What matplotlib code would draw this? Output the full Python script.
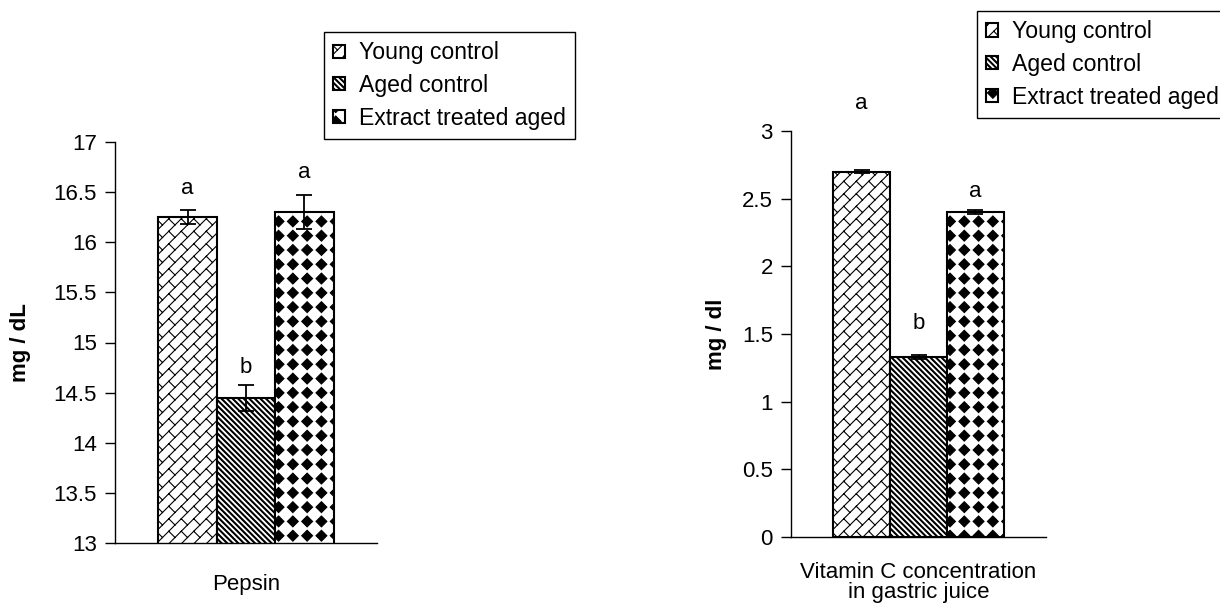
import numpy as np
import matplotlib
matplotlib.use("Agg")
import matplotlib.pyplot as plt
from matplotlib import hatch as mhatch
from matplotlib.path import Path
from matplotlib.ticker import FuncFormatter

# -------------------------------------
# Data
# -------------------------------------
groups = ["Young control", "Aged control", "Extract treated aged"]

pepsin_mean = [16.25, 14.45, 16.30]
pepsin_err = [0.07, 0.13, 0.17]
pepsin_letters = ["a", "b", "a"]
pepsin_letter_y = [16.54, 14.75, 16.70]

vitc_mean = [2.70, 1.33, 2.40]
vitc_err = [0.012, 0.012, 0.015]
vitc_letters = ["a", "b", "a"]
vitc_letter_y = [3.20, 1.58, 2.55]


# -------------------------------------
# Excel-like fill patterns as custom hatches
# 'O' -> diagonal brick, '\' -> thick dark stripes, '*' -> solid diamonds
# -------------------------------------
def st_to_xy(s, t):
    return ((s - t) / 2.0, (s + t) / 2.0)


class BrickHatch(mhatch.HatchPatternBase):
    def __init__(self, hatch, density):
        segs = []
        if "O" in hatch:
            n, m = 8, 4
            for k in range(-n, n + 1):
                t0 = k / n
                segs.append((st_to_xy(t0 - 0.2, t0), st_to_xy(t0 + 2.2, t0)))
                off = 0.5 / m if k % 2 else 0.0
                for j in range(-2, 2 * m + 3):
                    s = j / m + off
                    segs.append((st_to_xy(s, t0), st_to_xy(s, t0 + 1.0 / n)))
        keep = []
        for a, b in segs:
            xs, ys = (a[0], b[0]), (a[1], b[1])
            if max(xs) >= -0.05 and min(xs) <= 1.05 and max(ys) >= -0.05 and min(ys) <= 1.05:
                keep.append((a, b))
        self.segs = keep
        self.num_vertices = 2 * len(keep)

    def set_vertices_and_codes(self, vertices, codes):
        for i, (a, b) in enumerate(self.segs):
            vertices[2 * i] = a
            vertices[2 * i + 1] = b
            codes[2 * i] = Path.MOVETO
            codes[2 * i + 1] = Path.LINETO


class StripeHatch(mhatch.HatchPatternBase):
    def __init__(self, hatch, density):
        self.polys = []
        if "\\" in hatch:
            n = 18
            d = 0.013
            for k in range(-2, 2 * n + 2):
                c = k / n
                self.polys.append([(c + 0.5, -0.5), (c + d + 0.5, -0.5),
                                   (-0.5, c + d + 0.5), (-0.5, c + 0.5), (c + 0.5, -0.5)])
        self.num_vertices = 5 * len(self.polys)

    def set_vertices_and_codes(self, vertices, codes):
        for i, p in enumerate(self.polys):
            vertices[5 * i:5 * i + 5] = p
            codes[5 * i:5 * i + 5] = [Path.MOVETO, Path.LINETO, Path.LINETO,
                                      Path.LINETO, Path.CLOSEPOLY]


class DiamondHatch(StripeHatch):
    def __init__(self, hatch, density):
        self.polys = []
        if "*" in hatch:
            n = 7
            r = 0.38 / n
            for i in range(n):
                for j in range(n):
                    cx, cy = (i + 0.5) / n, (j + 0.5) / n
                    self.polys.append([(cx, cy - r), (cx + r, cy), (cx, cy + r),
                                       (cx - r, cy), (cx, cy - r)])
        self.num_vertices = 5 * len(self.polys)


mhatch._hatch_types = [mhatch.HorizontalHatch, mhatch.VerticalHatch,
                       BrickHatch, StripeHatch, DiamondHatch]

plt.rcParams["font.family"] = ["Liberation Sans", "DejaVu Sans"]
plt.rcParams["hatch.linewidth"] = 0.8
plt.rcParams["hatch.color"] = "black"

hatches = ["O", "\\", "*"]
x = np.arange(len(groups)) - 1


def draw_panel(ax, means, errs, letters, letter_y, ylim, step, ylabel, xlabel, label_pad):
    handles = []
    for i in range(len(groups)):
        h = ax.bar(x[i], means[i], width=1.0, color="white", edgecolor="black",
                   linewidth=1.5, hatch=hatches[i], label=groups[i])
        handles.append(h)
    ax.errorbar(x, means, yerr=errs, fmt="none", ecolor="black",
                elinewidth=1.3, capsize=5.5, capthick=1.3)
    for xi, yi, t in zip(x, letter_y, letters):
        ax.text(xi, yi, t, ha="center", va="center", fontsize=16, clip_on=False)
    ax.set_ylim(*ylim)
    ax.set_xlim(-2.24, 2.24)
    ax.set_yticks(np.arange(ylim[0], ylim[1] + step / 2, step))
    ax.yaxis.set_major_formatter(FuncFormatter(lambda v, p: "%g" % v))
    ax.set_xticks([0])
    ax.set_xticklabels([xlabel], fontsize=16, linespacing=0.95)
    ax.tick_params(axis="x", length=0, pad=label_pad)
    ax.tick_params(axis="y", labelsize=16, length=7, width=1, direction="out", pad=6)
    for s in ["top", "right"]:
        ax.spines[s].set_visible(False)
    for s in ["left", "bottom"]:
        ax.spines[s].set_linewidth(1)
    ax.set_ylabel(ylabel, fontsize=16, fontweight="bold")
    return handles


fig = plt.figure(figsize=(12.2, 6.08), dpi=100)

ax1 = fig.add_axes([115 / 1220, 1 - 543 / 608, 262 / 1220, 401 / 608])
h1 = draw_panel(ax1, pepsin_mean, pepsin_err, pepsin_letters, pepsin_letter_y,
                (13, 17), 0.5, "mg / dL", "Pepsin", 22)
ax1.yaxis.set_label_coords(-84 / 262, 0.5)

ax2 = fig.add_axes([791 / 1220, 1 - 537 / 608, 255 / 1220, 406 / 608])
h2 = draw_panel(ax2, vitc_mean, vitc_err, vitc_letters, vitc_letter_y,
                (0, 3), 0.5, "mg / dl", "Vitamin C concentration\nin gastric juice", 18)
ax2.yaxis.set_label_coords(-64 / 255, 0.5)

leg_kw = dict(frameon=True, fancybox=False, edgecolor="black", framealpha=1,
              fontsize=16.6, handlelength=0.5, handleheight=0.5, handletextpad=0.6,
              labelspacing=0.42, borderpad=0.4, borderaxespad=0)
leg1 = fig.legend(h1, groups, loc="lower left",
                  bbox_to_anchor=(324 / 1220, 1 - 139 / 608), **leg_kw)
leg1.get_frame().set_linewidth(1)
leg2 = fig.legend(h2, groups, loc="upper left",
                  bbox_to_anchor=(977 / 1220, 1 - 11 / 608), **leg_kw)
leg2.get_frame().set_linewidth(1)

fig.savefig("out.png", dpi=100)
